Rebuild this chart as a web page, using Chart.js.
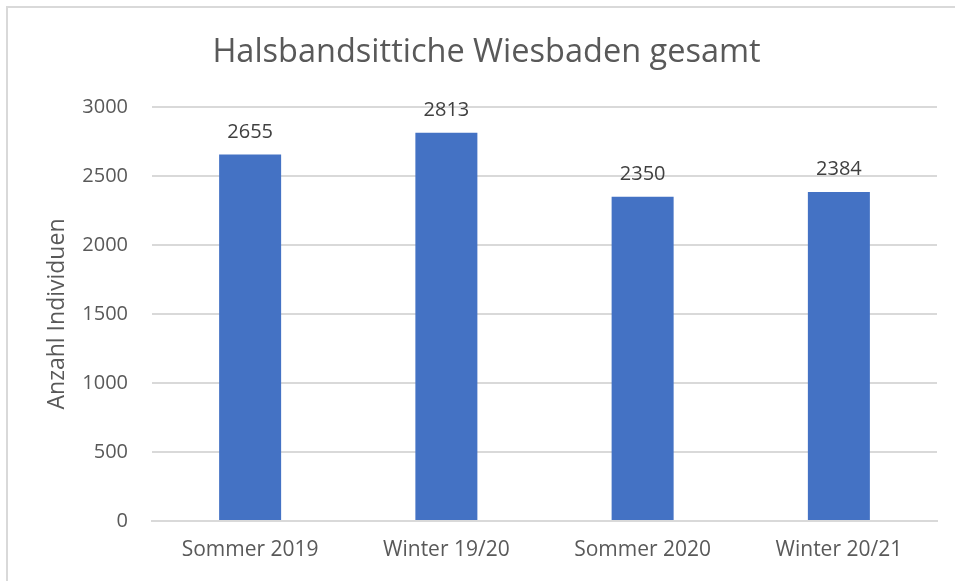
<!DOCTYPE html>
<html>
<head>
<meta charset="utf-8">
<script src="https://cdn.jsdelivr.net/npm/chart.js@4/dist/chart.umd.min.js"></script>
<style>
  html, body { margin: 0; padding: 0; background: #ffffff; }
  #wrap { position: relative; width: 955px; height: 581px; overflow: hidden; }
  #frame { position: absolute; left: 6px; top: 6px; width: 2000px; height: 2000px;
           border-left: 2px solid #d9d9d9; border-top: 2px solid #d9d9d9; pointer-events: none; }
  canvas { position: absolute; left: 0; top: 0; }
</style>
</head>
<body>
<div id="wrap">
  <canvas id="c" width="955" height="581"></canvas>
  <div id="frame"></div>
</div>
<script>
const categories = ["Sommer 2019", "Winter 19/20", "Sommer 2020", "Winter 20/21"];
const individuals = [2655, 2813, 2350, 2384];
const chartTitle = "Halsbandsittiche Wiesbaden gesamt";
const yAxisTitle = "Anzahl Individuen";
const yMin = 0, yMax = 3000, yStep = 500;

const FONT = "'Open Sans', sans-serif";
const TEXT = "#595959";
const GRID = "#d9d9d9";

const valueLabels = {
  id: "valueLabels",
  afterDatasetsDraw(chart) {
    const ctx = chart.ctx;
    const meta = chart.getDatasetMeta(0);
    ctx.save();
    ctx.font = "20px " + FONT;
    ctx.fillStyle = "#404040";
    ctx.textAlign = "center";
    ctx.textBaseline = "alphabetic";
    meta.data.forEach((el, i) => {
      ctx.fillText(String(chart.data.datasets[0].data[i]), el.x, el.y - 17);
    });
    ctx.restore();
  }
};

new Chart(document.getElementById("c"), {
  type: "bar",
  data: {
    labels: categories,
    datasets: [{
      label: yAxisTitle,
      data: individuals,
      backgroundColor: "#4472c4",
      borderWidth: 0,
      categoryPercentage: 1.0,
      barPercentage: 0.316
    }]
  },
  options: {
    responsive: false,
    animation: false,
    devicePixelRatio: 1,
    layout: { padding: { left: 36, right: 18, top: 0, bottom: 0 } },
    plugins: {
      legend: { display: false },
      tooltip: { enabled: false },
      title: {
        display: true,
        text: chartTitle,
        color: TEXT,
        font: { family: FONT, size: 32.5, weight: "normal" },
        padding: { top: 33, bottom: 35 }
      }
    },
    scales: {
      x: {
        grid: { display: false, drawTicks: false },
        border: { display: true, color: GRID, width: 2 },
        ticks: { color: TEXT, font: { family: FONT, size: 21 }, padding: 16, maxRotation: 0 },
        afterFit(scale) { scale.height = 60; }
      },
      y: {
        min: yMin, max: yMax,
        grid: { color: GRID, lineWidth: 2, drawTicks: false },
        border: { display: false },
        ticks: { stepSize: yStep, color: TEXT, font: { family: FONT, size: 20 }, padding: 24,
                 callback: (v) => String(v) },
        title: {
          display: true, text: yAxisTitle, color: TEXT,
          font: { family: FONT, size: 23 },
          padding: { top: 8, bottom: 0 }
        },
        afterFit(scale) { scale.width = 116; }
      }
    }
  },
  plugins: [valueLabels]
});
</script>
</body>
</html>
